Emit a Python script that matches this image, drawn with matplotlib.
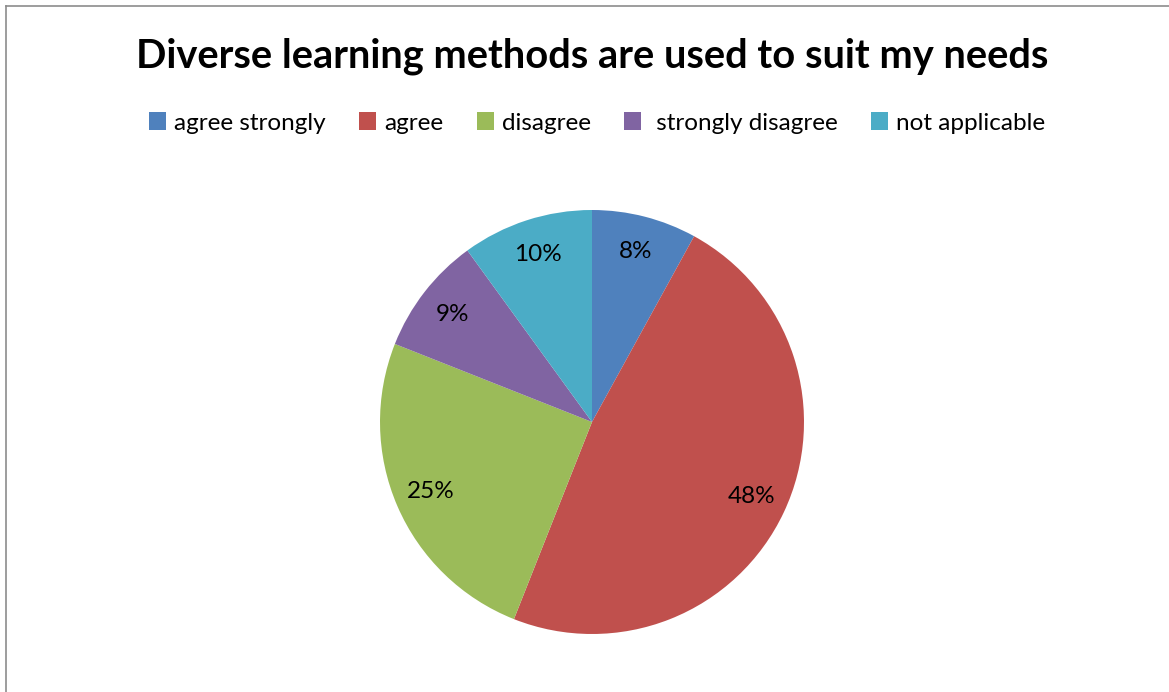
import matplotlib
matplotlib.use("Agg")
import matplotlib.pyplot as plt
from matplotlib.lines import Line2D

categories = ["agree strongly", "agree", "disagree", " strongly disagree", "not applicable"]
values = [8, 48, 25, 9, 10]
colors = ["#4F81BD", "#C0504D", "#9BBB59", "#8064A2", "#4BACC6"]
title = "Diverse learning methods are used to suit my needs"

plt.rcParams['font.family'] = ['Lato', 'DejaVu Sans']

W, H = 1169, 692
fig = plt.figure(figsize=(W / 100, H / 100), dpi=100)
fig.patch.set_facecolor("white")

cx, cy, r = 592, 422, 212
ax = fig.add_axes([(cx - r) / W, (H - cy - r) / H, 2 * r / W, 2 * r / H])
wedges, texts, autotexts = ax.pie(
    values, colors=colors, startangle=90, counterclock=False,
    autopct=lambda p: f"{p:.0f}%", pctdistance=0.83, radius=1,
    wedgeprops=dict(linewidth=0),
    textprops=dict(fontsize=17.5, color="black"))
ax.set_xlim(-1, 1)
ax.set_ylim(-1, 1)
ax.set_aspect("equal")
ax.axis("off")

fig.text(592 / W, 1 - 56 / H, title, ha="center", va="center",
         fontsize=28.7, fontweight="bold")

fig.legend(wedges, categories, loc="center", bbox_to_anchor=(597 / W, 1 - 123 / H),
           ncol=5, frameon=False, fontsize=17.5, handlelength=0.7, handleheight=0.7,
           handletextpad=0.35, columnspacing=1.36)

# chart border (left and top visible)
fig.add_artist(Line2D([5.5 / W, 5.5 / W], [0, 1 - 6 / H], color="#8C8C8C", lw=1.2,
                      transform=fig.transFigure))
fig.add_artist(Line2D([5.5 / W, 1], [1 - 6 / H, 1 - 6 / H], color="#8C8C8C", lw=1.2,
                      transform=fig.transFigure))

fig.savefig("out.png", dpi=100)
